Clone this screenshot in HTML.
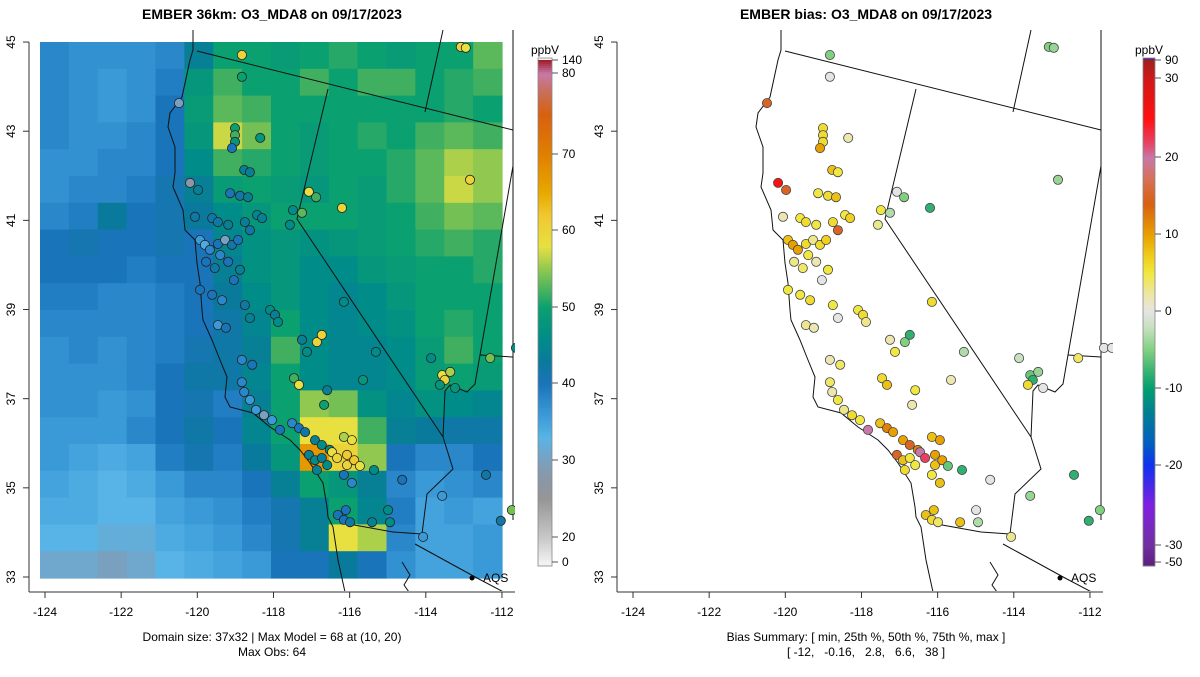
<!DOCTYPE html>
<html><head><meta charset="utf-8"><style>
body{margin:0;background:#fff;font-family:"Liberation Sans",sans-serif}
svg text{font-family:"Liberation Sans",sans-serif}
</style></head><body>
<svg id="chart" width="1200" height="672" viewBox="0 0 1200 672" xmlns="http://www.w3.org/2000/svg">
<defs>
<clipPath id="clipL"><rect x="30" y="30" width="485" height="561"/></clipPath>
<clipPath id="clipR"><rect x="618" y="30" width="495" height="561"/></clipPath>
</defs>
<text x="272" y="19" text-anchor="middle" font-size="14" font-weight="bold">EMBER 36km: O3_MDA8 on 09/17/2023</text>
<text x="866" y="19" text-anchor="middle" font-size="14" font-weight="bold">EMBER bias: O3_MDA8 on 09/17/2023</text>
<g id="rasterL" clip-path="url(#clipL)"></g>
<g id="mapL" clip-path="url(#clipL)"></g>
<g id="mapR" clip-path="url(#clipR)"></g>
<g id="ptsL" clip-path="url(#clipL)"></g>
<g id="ptsR" clip-path="url(#clipR)"></g>
<g id="axes"></g>
<g id="cbars"></g>
<text x="272" y="641" text-anchor="middle" font-size="12">Domain size: 37x32 | Max Model = 68 at (10, 20)</text>
<text x="272" y="656" text-anchor="middle" font-size="12">Max Obs: 64</text>
<text x="866" y="641" text-anchor="middle" font-size="12">Bias Summary: [ min, 25th %, 50th %, 75th %, max ]</text>
<text x="866" y="656" text-anchor="middle" font-size="12" xml:space="preserve">[ -12,   -0.16,   2.8,   6.6,   38 ]</text>
</svg>
<script>
const gridRows=[
[38,37,37,37,38,44,50,50,49,50,51,50,49,50,50,53],
[38,37,36,37,39,48,52,50,50,52,50,52,52,50,51,52],
[38,37,36,37,40,49,53,52,50,50,50,50,50,50,51,50],
[38,37,37,38,40,48,57,54,50,49,50,51,50,52,53,52],
[37,37,38,38,40,46,52,51,50,49,50,50,51,53,56,55],
[37,38,38,39,41,44,49,50,49,48,50,49,51,53,57,55],
[38,39,43,40,41,43,46,48,50,50,50,49,50,52,54,53],
[40,41,40,40,41,40,45,47,48,47,48,49,50,51,52,51],
[40,40,40,39,40,40,44,47,48,46,46,48,49,50,50,51],
[39,39,38,38,39,40,43,46,48,46,45,46,48,50,50,50],
[38,38,38,38,39,40,42,45,50,46,45,46,47,50,51,50],
[37,38,37,38,39,41,42,44,52,46,45,45,46,49,52,50],
[37,37,37,38,40,42,42,45,50,46,45,45,46,49,50,49],
[37,37,36,37,40,41,39,44,50,55,54,47,45,47,46,45],
[36,36,36,38,40,42,40,45,50,58,58,52,44,43,42,42],
[36,35,34,35,39,41,39,43,48,67,60,55,40,38,38,40],
[35,34,33,34,36,38,38,40,44,50,48,44,38,36,37,38],
[34,34,33,33,35,36,37,39,41,44,50,45,39,35,36,35],
[33,33,32,32,34,35,36,38,41,44,58,56,38,35,35,36],
[31,31,30,31,33,34,35,36,40,40,43,40,37,35,35,36]];
const stLon=[-118.83,-118.83,-113.08,-112.95,-120.48,-119.01,-119.01,-119.01,-119.09,-118.35,-118.77,-118.62,-120.19,-119.98,-119.14,-118.88,-118.67,-112.84,-117.07,-116.88,-116.20,-117.49,-117.25,-120.06,-119.61,-119.46,-119.19,-118.75,-118.62,-118.43,-118.30,-117.57,-119.93,-119.80,-119.67,-119.46,-119.27,-119.09,-118.93,-119.40,-119.19,-119.77,-119.54,-118.88,-119.93,-119.61,-119.35,-119.04,-119.46,-119.25,-118.62,-118.09,-117.96,-117.88,-118.75,-116.15,-116.86,-116.73,-118.83,-118.56,-117.25,-117.12,-113.86,-113.57,-113.50,-113.36,-113.63,-113.23,-115.31,-112.31,-111.63,-111.42,-117.46,-117.33,-118.83,-118.77,-118.62,-116.59,-116.67,-115.65,-118.46,-118.25,-118.04,-117.51,-117.33,-117.17,-117.83,-116.91,-116.73,-116.52,-116.15,-115.94,-117.07,-116.91,-116.73,-116.46,-116.33,-116.07,-116.86,-116.59,-116.07,-115.88,-116.15,-115.73,-115.36,-115.94,-114.62,-113.57,-112.42,-116.31,-116.15,-115.99,-116.10,-115.41,-114.99,-114.94,-114.07,-112.03,-111.74];
const stLat=[44.71,44.22,44.89,44.87,43.63,43.07,42.91,42.76,42.62,42.85,42.13,42.08,41.84,41.68,41.61,41.55,41.52,41.91,41.64,41.52,41.28,41.23,41.17,41.08,41.05,40.96,40.90,40.96,40.78,41.12,41.05,40.90,40.56,40.45,40.34,40.47,40.56,40.45,40.56,40.22,40.07,40.07,39.93,39.89,39.44,39.33,39.21,39.66,38.65,38.59,38.81,38.99,38.88,38.72,39.10,39.17,38.27,38.43,37.87,37.76,38.32,38.05,37.91,37.53,37.42,37.60,37.31,37.24,38.05,37.91,38.14,38.14,37.46,37.31,37.37,37.15,36.97,37.19,36.86,37.42,36.75,36.63,36.52,36.45,36.34,36.25,36.30,36.07,35.96,35.85,36.14,36.07,35.74,35.62,35.67,35.80,35.67,35.74,35.40,35.51,35.51,35.62,35.29,35.49,35.40,35.11,35.18,34.82,35.29,34.39,34.28,34.23,34.50,34.23,34.50,34.23,33.90,34.26,34.50];
const stObs=[60,50,60,58,30,50,52,48,40,48,44,44,28,44,40,42,44,60,58,52,60,46,53,42,42,42,44,44,42,45,44,46,36,34,38,40,30,42,40,38,40,40,42,44,40,40,38,40,36,40,44,46,44,46,42,46,60,60,38,40,44,46,46,58,60,56,48,48,46,54,46,46,52,58,38,38,36,44,50,48,36,30,36,38,40,42,40,44,46,46,56,58,44,46,44,58,60,62,44,46,60,62,40,58,46,38,40,36,42,40,40,42,40,44,46,46,36,42,54];
const stBias=[-5,0,-5,-4,15,6,6,6,10,2,8,5,25,15,5,6,8,-4,0,-5,-8,5,-3,2,5,6,5,6,15,5,7,3,8,10,10,6,3,6,7,5,2,3,4,5,5,5,6,0,3,2,0,5,6,3,5,6,-5,-8,2,4,2,5,-2,-6,-8,-4,6,0,-3,4,0,0,6,8,4,2,5,5,2,2,3,6,5,8,12,10,20,10,15,12,8,10,15,8,5,20,22,10,6,5,8,10,5,-6,-8,8,0,-4,-8,8,6,4,8,8,0,-3,3,-8,-5];
const xTicks=[-124,-122,-120,-118,-116,-114,-112];
const yTicks=[33,35,37,39,41,43,45];
const obsBarTicks=[0,20,30,40,50,60,70,80,140];
const biasBarTicks=[-50,-30,-20,-10,0,10,20,30,90];

const NS='http://www.w3.org/2000/svg';
function mk(tag,attrs,parent){const e=document.createElementNS(NS,tag);for(const k in attrs)e.setAttribute(k,attrs[k]);parent.appendChild(e);return e;}
const xs=(lon,off)=>off+45+(lon+124)*38.08;
const ys=lat=>577-(lat-33)*44.58;
function hex(c){return [parseInt(c.slice(1,3),16),parseInt(c.slice(3,5),16),parseInt(c.slice(5,7),16)];}
function ramp(stops,v){if(v<=stops[0][0])return stops[0][1];for(let i=1;i<stops.length;i++){if(v<=stops[i][0]){const a=stops[i-1],b=stops[i],t=(v-a[0])/(b[0]-a[0]);const A=hex(a[1]),B=hex(b[1]);return 'rgb('+A.map((x,j)=>Math.round(x+(B[j]-x)*t)).join(',')+')';}}return stops[stops.length-1][1];}
const obsStops=[[0,'#f2f2f2'],[20,'#c8c8c8'],[25,'#969696'],[28,'#8898a8'],[30,'#7aa0c0'],[33,'#58b4e6'],[36,'#3a9ad8'],[40,'#1a74ba'],[43,'#0a7a9c'],[46,'#008c88'],[50,'#0aa070'],[52,'#40b060'],[55,'#90c850'],[58,'#e8e040'],[62,'#f0c830'],[65,'#e8a800'],[70,'#e08000'],[75,'#d86010'],[78,'#c87060'],[80,'#c878a8'],[140,'#a02030']];
const biasStops=[[-50,'#602080'],[-30,'#7030a0'],[-25,'#8020e0'],[-20,'#1030f0'],[-17,'#0060c0'],[-13,'#008090'],[-10,'#00a070'],[-8,'#30b070'],[-5,'#80d080'],[-2,'#c8e0c0'],[0,'#e4e4e4'],[2,'#ece6b0'],[5,'#f0e840'],[7,'#f0d020'],[10,'#e8a000'],[14,'#d86010'],[17,'#d87050'],[20,'#c878a8'],[22,'#e84060'],[25,'#ff1010'],[30,'#d01818'],[90,'#a02020']];

const rL=document.getElementById('rasterL');
const nR=gridRows.length,nC=gridRows[0].length,cw=462/nC,ch=536/nR;
gridRows.forEach((row,j)=>row.forEach((v,i)=>{
 const r=mk('rect',{x:(40+i*cw).toFixed(2),y:(42+j*ch).toFixed(2),width:(cw+0.6).toFixed(2),height:(ch+0.6).toFixed(2),fill:ramp(obsStops,v)},rL);
 
 
}));

const lines=[
"M193,30 L193,50 L190,60 L182,97 L170,113 L168,127 L175,147 L175,173 L173,187 L183,210 L185,230 L195,240 L197,263 L200,283 L202,310 L203,320 L212,340 L220,360 L227,377 L225,397 L230,407 L253,413 L270,427 L290,440 L300,450 L310,463 L323,483 L327,507 L328,517 L333,527 L338,560 L343,583 L345,592",
"M197,51 L513,130","M328,89 L297,219 L443,437","M443,437 L453,469 L427,494 L422,534","M343,523 L393,532 L422,534",
"M415,544 L477,578 L515,598","M443,30 L425,112","M513,166 L480,355","M480,355 L513,357",
"M480,355 L475,384 L467,392 L450,385 L445,391 L443,437","M513,30 L513,520","M402,562 L410,575 L404,585 L409,592"];
[['mapL',0],['mapR',588]].forEach(([id,off])=>{const g=document.getElementById(id);lines.forEach(d=>{const p=mk('path',{d:d,fill:'none',stroke:'#111','stroke-width':1,transform:'translate('+off+',0)'},g);});
 const dot=mk('circle',{cx:472+off,cy:578,r:2.5,fill:'#000'},g);
 const t=mk('text',{x:483+off,y:582,'font-size':12},g);t.textContent='AQS';});

const pL=document.getElementById('ptsL'),pR=document.getElementById('ptsR');
stLon.forEach((lon,k)=>{
 const a=mk('circle',{cx:xs(lon,0).toFixed(1),cy:ys(stLat[k]).toFixed(1),r:4.6,fill:ramp(obsStops,stObs[k]),stroke:'#222','stroke-width':0.8},pL);
 
 
 const b=mk('circle',{cx:xs(lon,588).toFixed(1),cy:ys(stLat[k]).toFixed(1),r:4.6,fill:ramp(biasStops,stBias[k]),stroke:'#444','stroke-width':0.8},pR);
 
 
});

const ax=document.getElementById('axes');
[0,588].forEach(off=>{
 mk('line',{x1:29+off,y1:42,x2:29+off,y2:592,stroke:'#333'},ax);
 mk('line',{x1:29+off,y1:592,x2:515+off,y2:592,stroke:'#333'},ax);
 xTicks.forEach(v=>{const x=xs(v,off);mk('line',{x1:x,y1:592,x2:x,y2:598,stroke:'#333'},ax);const t=mk('text',{x:x,y:616,'text-anchor':'middle','font-size':12},ax);t.textContent=v;});
 yTicks.forEach(v=>{const y=ys(v);mk('line',{x1:23+off,y1:y,x2:29+off,y2:y,stroke:'#333'},ax);const t=mk('text',{x:0,y:0,'text-anchor':'middle','font-size':12,transform:'translate('+(15+off)+','+y+') rotate(-90)'},ax);t.textContent=v;});
});

const cb=document.getElementById('cbars');
function bar(x0,w,stops,posStops,ticks){
 const pos=v=>{for(let i=1;i<posStops.length;i++){if(v<=posStops[i][0]){const a=posStops[i-1],b=posStops[i];return a[1]+(b[1]-a[1])*(v-a[0])/(b[0]-a[0]);}}return posStops[posStops.length-1][1];};
 const yTop=58,yBot=566;
 for(let y=yTop;y<yBot;y+=2){
  let v=posStops[0][0];
  for(let i=1;i<posStops.length;i++){const a=posStops[i-1],b=posStops[i];if(y<=a[1]&&y>=b[1]){v=a[0]+(b[0]-a[0])*(a[1]-y)/(a[1]-b[1]);break;}}
  const r=mk('rect',{x:x0,y:y,width:w,height:2.4,fill:ramp(stops,v)},cb);
  
  
 }
 mk('rect',{x:x0,y:yTop,width:w,height:yBot-yTop,fill:'none',stroke:'#888','stroke-width':0.8},cb);
 ticks.forEach(v=>{const y=pos(v);mk('line',{x1:x0+w,y1:y,x2:x0+w+6,y2:y,stroke:'#555'},cb);const t=mk('text',{x:x0+w+10,y:y+4,'font-size':12},cb);t.textContent=v;});
 const t=mk('text',{x:x0+w/2,y:54,'text-anchor':'middle','font-size':12},cb);t.textContent='ppbV';
}
bar(538,14,obsStops,[[0,562],[20,537],[30,460],[40,383],[50,307],[60,230],[70,154],[80,73],[140,60]],obsBarTicks);
bar(1143,12,biasStops,[[-50,562],[-30,545],[-20,465],[-10,388],[0,311],[10,234],[20,157],[30,78],[90,60]],biasBarTicks);
</script>
</body></html>
